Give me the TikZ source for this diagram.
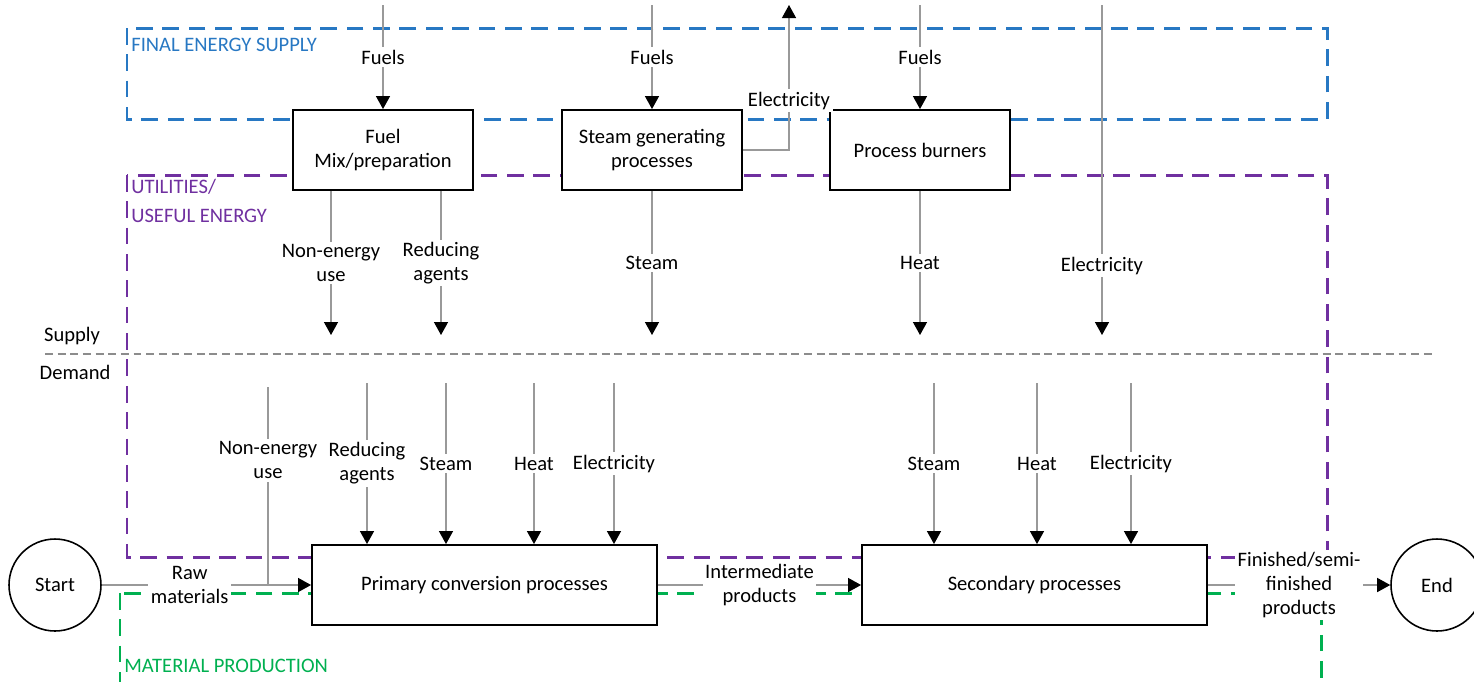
\documentclass[tikz,border=0pt]{standalone}
\usepackage{fontspec}
\setmainfont{Carlito}
\usetikzlibrary{arrows.meta, positioning}

\definecolor{energyblue}{RGB}{40,120,195}
\definecolor{utilpurple}{RGB}{112,48,160}
\definecolor{matgreen}{RGB}{0,176,80}

\begin{document}
\begin{tikzpicture}[x=0.02cm, y=-0.02cm,
                  font = \fontsize{11.7}{13.6}\selectfont,
        flowline/.style = {draw=black!40, line width=0.65pt},
       flowarrow/.style = {flowline,
                           -{Triangle[length=7.4pt, width=8pt, color=black]}},
         process/.style = {rectangle, draw, line width=1.1pt, fill=white,
                           minimum width=3.6cm, minimum height=1.6cm,
                           align=center},
        terminal/.style = {circle, draw, line width=0.9pt, fill=white,
                           minimum size=1.84cm, inner sep=0pt},
         flowlbl/.style = {fill=white, inner sep=1.5pt, align=center},
            zone/.style = {draw=#1, line width=1.7pt,
                           dash pattern=on 9.5pt off 5.5pt},
        zonename/.style = {text=#1, anchor=west, inner sep=0pt, align=left}
                        ]
\clip[use as bounding box] (0,0) rectangle (1474,681);
% Draw the dashed regions and their names
\draw[zone=energyblue] (127,28)  rectangle (1327,119);
\draw[zone=utilpurple] (127,175) rectangle (1327,557);
\draw[zone=matgreen]   (120,593) rectangle (1321,720);
\node[zonename=energyblue] (Z-1) at (131,45)  {FINAL ENERGY SUPPLY};
\node[zonename=utilpurple] (Z-2) at (131,201) {UTILITIES/\\[3pt]USEFUL ENERGY};
\node[zonename=matgreen]   (Z-3) at (124,666) {MATERIAL PRODUCTION};
% Draw the supply/demand divider
\coordinate (D-1) at (45,354);
\coordinate (D-2) at (1432,354);
\draw[black!45, line width=0.6pt, dash pattern=on 4.5pt off 2.7pt] (D-1) -- (D-2);
\node (sup) at (72,336) {Supply};
\node (dem) at (75,372) {Demand};
% Draw the process boxes
\node[process] (fuel)  at (383,150) {Fuel\\Mix/preparation};
\node[process] (steam) at (652,150) {Steam generating\\processes};
\node[process] (burn)  at (920,150) {Process burners};
\node[process, minimum width=6.9cm] (prim) at (484.5,585)  {Primary conversion processes};
\node[process, minimum width=6.9cm] (sec)  at (1034.5,585) {Secondary processes};
\node[terminal] (start)  at (55,585)   {Start};
\node[terminal] (finish) at (1437,585) {End};
% Fuels into the supply side boxes
\foreach \n/\x in {fuel/383, steam/652, burn/920}
{
    \coordinate (\n-in) at (\x,5);
    \draw[flowarrow] (\n-in) -- node[flowlbl]{Fuels} (\n);
}
\coordinate (E-up) at (789,5);
\draw[flowarrow] (steam.east) -| node[flowlbl, pos=0.67]{Electricity} (E-up);
% Useful energy leaving the supply side
\foreach \x/\t [count=\i] in {331/{Non-energy\\use}, 441/{Reducing\\agents}}
{
    \coordinate (U-\i) at (\x,335);
    \draw[flowarrow] (U-\i |- fuel.south) -- node[flowlbl]{\t} (U-\i);
}
\coordinate (U-3) at (652,335);
\coordinate (U-4) at (920,335);
\coordinate (U-5) at (1102,335);
\coordinate (E-top) at (1102,5);
\draw[flowarrow] (steam) -- node[flowlbl]{Steam} (U-3);
\draw[flowarrow] (burn)  -- node[flowlbl]{Heat}  (U-4);
\draw[flowarrow] (E-top) -- node[flowlbl, pos=0.79]{Electricity} (U-5);
% Useful energy into the demand side processes
\coordinate (N-top) at (268,387);
\coordinate (N-bot) at (268,585);
\draw[flowline] (N-top) -- node[flowlbl, pos=0.37]{Non-energy\\use} (N-bot);
\foreach \x/\t [count=\i] in {367/{Reducing\\agents}, 446/Steam, 534/Heat, 614/Electricity}
{
    \coordinate (P-\i) at (\x,383);
    \draw[flowarrow] (P-\i) -- node[flowlbl]{\t} (P-\i |- prim.north);
}
\foreach \x/\t [count=\i] in {934/Steam, 1037/Heat, 1131/Electricity}
{
    \coordinate (S-\i) at (\x,383);
    \draw[flowarrow] (S-\i) -- node[flowlbl]{\t} (S-\i |- sec.north);
}
% Material flow
\draw[flowarrow] (start) -- node[flowlbl, pos=0.42]{Raw\\materials} (prim);
\draw[flowarrow] (prim)  -- node[flowlbl]{Intermediate\\products} (sec);
\draw[flowarrow] (sec)   -- node[flowlbl]{Finished/semi-\\finished\\products} (finish);
\end{tikzpicture}
\end{document}
